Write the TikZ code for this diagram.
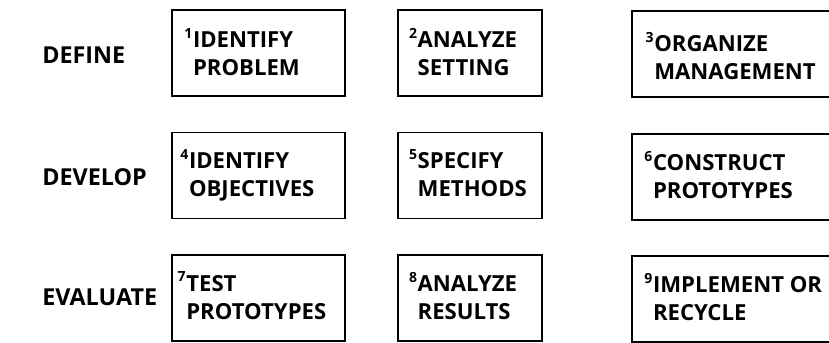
\documentclass[tikz,border=0pt]{standalone}
\usepackage{fontspec}
\setmainfont{Open Sans}
\usetikzlibrary{positioning}

% step number hung in front of the first word
\newcommand{\tasknum}[1]{\llap{\raisebox{7pt}{\fontsize{10.5}{10}\selectfont #1}\hspace{0.5pt}}}

\begin{document}
\begin{tikzpicture}[x=0.75pt,y=-0.75pt,
	phase/.style={anchor=west, inner sep=0pt, font=\bfseries\fontsize{17.5}{21}\selectfont},
	task/.style={draw, line width=0.9pt, minimum height=64.5pt, inner sep=0pt},
	tasktext/.style={align=left, inner sep=0pt, font=\bfseries\fontsize{16.6}{21}\selectfont}]
		\path[use as bounding box, clip] (0,0) rectangle (829,343);

		\node (define)[phase] at (42,55) {DEFINE};
		\node (develop)[phase] at (42,177) {DEVELOP};
		\node (evaluate)[phase] at (42,297) {EVALUATE};

		\node (b1)[task, minimum width=129.75pt] at (258.5,53) {};
		\node (b2)[task, minimum width=108pt] at (470,53) {};
		\node (b3)[task, minimum width=150pt] at (732,54) {};
		\node (b4)[task, minimum width=129.75pt] at (258.5,175.5) {};
		\node (b5)[task, minimum width=108pt] at (470,175.5) {};
		\node (b6)[task, minimum width=150pt] at (732,177) {};
		\node (b7)[task, minimum width=129.75pt] at (258.5,298) {};
		\node (b8)[task, minimum width=108pt] at (470,298) {};
		\node (b9)[task, minimum width=150pt] at (732,299) {};

		\node (t1)[tasktext, below right=14pt and 16pt of b1.north west] {\tasknum{1}IDENTIFY\\PROBLEM};
		\node (t2)[tasktext, below right=14pt and 15pt of b2.north west] {\tasknum{2}ANALYZE\\SETTING};
		\node (t3)[tasktext, below right=16pt and 17pt of b3.north west] {\tasknum{3}ORGANIZE\\MANAGEMENT};
		\node (t4)[tasktext, below right=13pt and 13pt of b4.north west] {\tasknum{4}IDENTIFY\\OBJECTIVES};
		\node (t5)[tasktext, below right=13pt and 15pt of b5.north west] {\tasknum{5}SPECIFY\\METHODS};
		\node (t6)[tasktext, below right=13pt and 16pt of b6.north west] {\tasknum{6}CONSTRUCT\\PROTOTYPES};
		\node (t7)[tasktext, below right=13pt and 11pt of b7.north west] {\tasknum{7}TEST\\PROTOTYPES};
		\node (t8)[tasktext, below right=13pt and 15pt of b8.north west] {\tasknum{8}ANALYZE\\RESULTS};
		\node (t9)[tasktext, below right=13pt and 16pt of b9.north west] {\tasknum{9}IMPLEMENT OR\\RECYCLE};
	\end{tikzpicture}
\end{document}
